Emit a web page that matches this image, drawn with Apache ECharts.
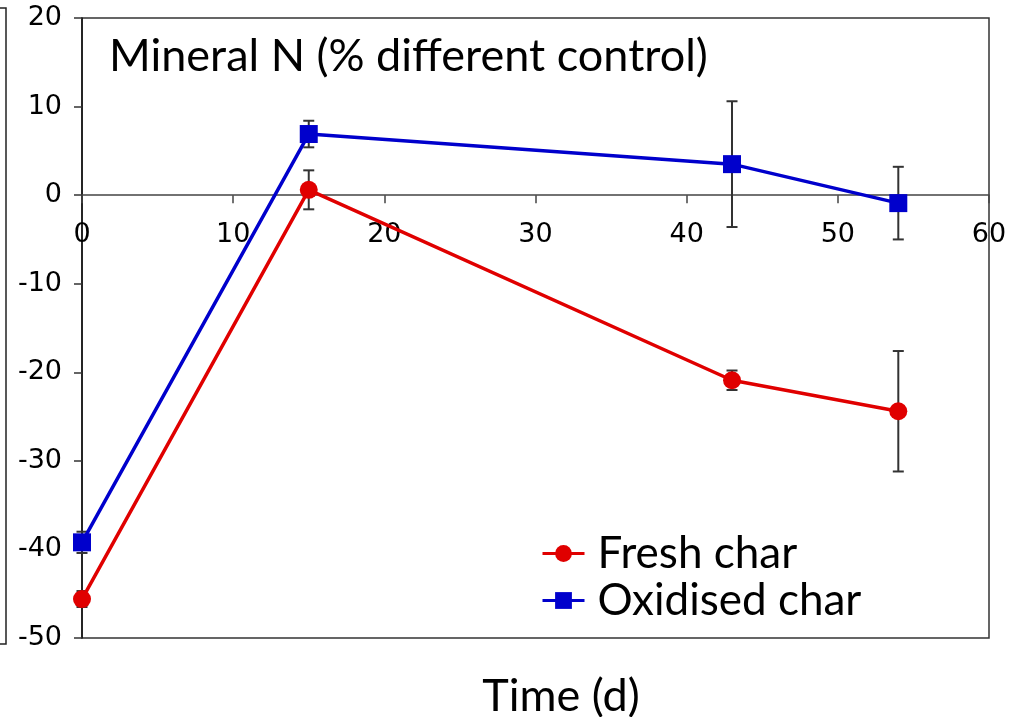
<!DOCTYPE html>
<html>
<head>
<meta charset="utf-8">
<script src="https://cdn.jsdelivr.net/npm/echarts@6/dist/echarts.min.js"></script>
<style>
  html, body { margin: 0; padding: 0; background: #fff; }
  #chart { width: 1018px; height: 717px; }
</style>
</head>
<body>
<div id="chart"></div>
<script>
// Sampling days
const days = [0, 15, 43, 54];
// Mineral N, % difference from control
const freshChar = [-45.6, 0.6, -20.9, -24.4];
const freshErr = [0.9, 2.2, 1.1, 6.8];
const oxidisedChar = [-39.2, 6.9, 3.5, -0.9];
const oxidisedErr = [1.2, 1.5, 7.1, 4.1];
// Axis ticks
const xTicks = [0, 10, 20, 30, 40, 50, 60];
const yTicks = [-50, -40, -30, -20, -10, 0, 10, 20];

const RED = '#e00000';
const BLUE = '#0000cc';

// Plot box in pixels
const GRID = { left: 82, top: 18, right: 29, bottom: 79 };
const PLOT_H = 717 - GRID.top - GRID.bottom;
const yMin = yTicks[0], yMax = yTicks[yTicks.length - 1];
// Distance from the bottom edge up to the y = 0 line, so the x axis sits on zero
const zeroLift = PLOT_H * (0 - yMin) / (yMax - yMin);

function errorSeries(values, errs) {
  const data = days.map((d, i) => [d, values[i] - errs[i], values[i] + errs[i]]);
  return {
    type: 'custom',
    silent: true,
    z: 1,
    renderItem: function (params, api) {
      const x = api.value(0);
      const lo = api.coord([x, api.value(1)]);
      const hi = api.coord([x, api.value(2)]);
      const hw = 5.5;
      const style = { stroke: '#333', lineWidth: 2 };
      return {
        type: 'group',
        children: [
          { type: 'line', shape: { x1: lo[0], y1: lo[1], x2: hi[0], y2: hi[1] }, style },
          { type: 'line', shape: { x1: lo[0] - hw, y1: lo[1], x2: lo[0] + hw, y2: lo[1] }, style },
          { type: 'line', shape: { x1: hi[0] - hw, y1: hi[1], x2: hi[0] + hw, y2: hi[1] }, style }
        ]
      };
    },
    data: data
  };
}

const chart = echarts.init(document.getElementById('chart'), null, { renderer: 'canvas' });
chart.setOption({
  animation: false,
  backgroundColor: '#fff',
  grid: {
    left: GRID.left, top: GRID.top, right: GRID.right, bottom: GRID.bottom,
    show: true, borderColor: '#333', borderWidth: 1.5, backgroundColor: 'transparent'
  },
  title: [
    {
      text: 'Mineral N (% different control)',
      left: 104, top: 29,
      textStyle: { fontFamily: 'Lato', fontWeight: 'normal', fontSize: 45, color: '#000' }
    },
    {
      text: 'Time (d)',
      left: 556, top: 669, textAlign: 'center',
      textStyle: { fontFamily: 'Lato', fontWeight: 'normal', fontSize: 45, color: '#000' }
    }
  ],
  legend: {
    orient: 'vertical',
    left: 536, top: 525,
    itemWidth: 42, itemHeight: 21, itemGap: 0,
    lineStyle: { width: 3 },
    textStyle: { fontFamily: 'Lato', fontSize: 44, lineHeight: 47, color: '#000', padding: [0, 0, 0, 8] },
    data: ['Fresh char', 'Oxidised char']
  },
  xAxis: {
    type: 'value',
    min: xTicks[0], max: xTicks[xTicks.length - 1], interval: 10,
    position: 'bottom',
    offset: -zeroLift,
    axisLine: { onZero: false, lineStyle: { color: '#444', width: 1.5 } },
    axisTick: { show: true, length: 8, lineStyle: { color: '#444', width: 1.5 } },
    axisLabel: { fontFamily: 'DejaVu Sans', fontSize: 27, color: '#000', margin: 26 },
    splitLine: { show: false }
  },
  yAxis: {
    type: 'value',
    min: yMin, max: yMax, interval: 10,
    axisLine: { show: true, lineStyle: { color: '#111', width: 1.5 } },
    axisTick: { show: true, length: 8, lineStyle: { color: '#333', width: 1.5 } },
    axisLabel: { fontFamily: 'DejaVu Sans', fontSize: 27, color: '#000', margin: 20 },
    splitLine: { show: false }
  },
  graphic: [
    {
      type: 'polyline',
      shape: { points: [[0, 8], [6, 8], [6, 644], [0, 644]] },
      style: { stroke: '#222', lineWidth: 1.5, fill: null }
    }
  ],
  series: [
    errorSeries(freshChar, freshErr),
    errorSeries(oxidisedChar, oxidisedErr),
    {
      name: 'Fresh char',
      type: 'line',
      z: 3,
      data: days.map((d, i) => [d, freshChar[i]]),
      symbol: 'circle', symbolSize: 18,
      lineStyle: { color: RED, width: 3.5 },
      itemStyle: { color: RED }
    },
    {
      name: 'Oxidised char',
      type: 'line',
      z: 3,
      data: days.map((d, i) => [d, oxidisedChar[i]]),
      symbol: 'rect', symbolSize: 18,
      lineStyle: { color: BLUE, width: 3.5 },
      itemStyle: { color: BLUE }
    }
  ]
});
</script>
</body>
</html>
